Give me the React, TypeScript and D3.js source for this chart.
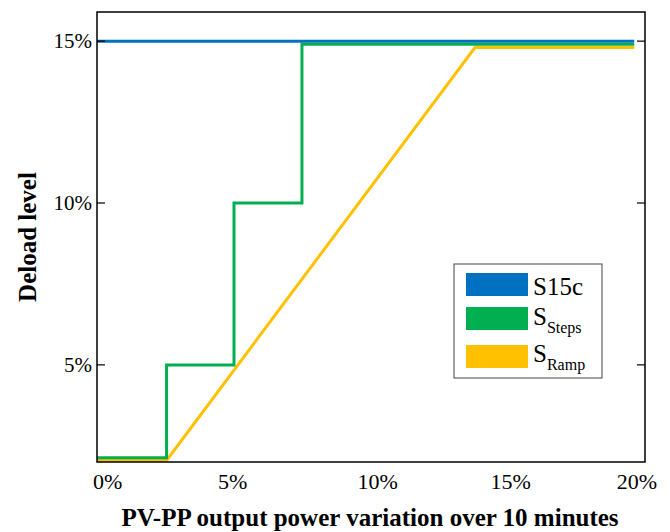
import React from "react";
import * as d3 from "d3";

// ---- data ----
const s15cX = [0, 20];
const s15cY = [15, 15];
const stepsX = [0, 2.59, 2.59, 5.1, 5.1, 7.63, 7.63, 20];
const stepsY = [2.13, 2.13, 5, 5, 10, 10, 14.9, 14.9];
const rampX = [0, 2.59, 14.07, 20];
const rampY = [2.05, 2.05, 14.8, 14.8];
const yTicks = [5, 10, 15];
const yTickLabels = ["5%", "10%", "15%"];
const xTickLabels = ["0%", "5%", "10%", "15%", "20%"];
const xTickLabelPos = [0.4, 5.05, 10.45, 15.4, 20.1];

const W = 670;
const H = 532;
const L = 97, R = 645, T = 12, B = 462;
const FONT = "'Liberation Serif', 'Times New Roman', serif";

export default function App() {
  const x = d3.scaleLinear().domain([0, 20.4]).range([L, R]);
  const y = d3.scaleLinear().domain([2.0, 15.9]).range([B, T]);
  const line = d3
    .line<[number, number]>()
    .x((d) => x(d[0]))
    .y((d) => y(d[1]));
  const pts = (xs: number[], ys: number[]) => xs.map((v, i) => [v, ys[i]] as [number, number]);

  const series = [
    { name: "S15c", color: "#0070C0", d: line(pts(s15cX, s15cY)) },
    { name: "Steps", color: "#00B050", d: line(pts(stepsX, stepsY)) },
    { name: "Ramp", color: "#FFC000", d: line(pts(rampX, rampY)) },
  ];

  return (
    <svg
      width={W}
      height={H}
      style={{ position: "absolute", left: 0, top: 0, background: "#fff" }}
      fontFamily={FONT}
    >
      <rect x={0} y={0} width={W} height={H} fill="#fff" />
      {[...series].reverse().map((s) => (
        <path
          key={s.name}
          d={s.d || ""}
          fill="none"
          stroke={s.color}
          strokeWidth={3}
          strokeLinejoin="miter"
        />
      ))}
      <rect x={L} y={T} width={R - L} height={B - T} fill="none" stroke="#000" strokeWidth={1.5} />
      {yTicks.map((t, i) => (
        <g key={t}>
          <line x1={L} x2={L + 8} y1={y(t)} y2={y(t)} stroke="#000" strokeWidth={1.2} />
          <line x1={R - 8} x2={R} y1={y(t)} y2={y(t)} stroke="#000" strokeWidth={1.2} />
          <text x={L - 5} y={y(t)} dy="0.35em" textAnchor="end" fontSize={21} fill="#000">
            {yTickLabels[i]}
          </text>
        </g>
      ))}
      {xTickLabels.map((lab, i) => (
        <text
          key={lab}
          x={x(xTickLabelPos[i])}
          y={489}
          textAnchor="middle"
          fontSize={22}
          fill="#000"
        >
          {lab}
        </text>
      ))}
      <text x={370} y={526} textAnchor="middle" fontSize={25} fontWeight="bold" fill="#000">
        PV-PP output power variation over 10 minutes
      </text>
      <text
        transform={`translate(36, 237) rotate(-90)`}
        textAnchor="middle"
        fontSize={25}
        fontWeight="bold"
        fill="#000"
      >
        Deload level
      </text>
      <rect x={454} y={264} width={148} height={114} fill="#fff" stroke="#444" strokeWidth={1} />
      <rect x={466} y={273} width={62} height={23} fill={series[0].color} />
      <rect x={466} y={307} width={62} height={23} fill={series[1].color} />
      <rect x={466} y={345} width={62} height={23} fill={series[2].color} />
      <text x={533} y={295} fontSize={25} fill="#000">S15c</text>
      <text x={533} y={325} fontSize={25} fill="#000">
        S<tspan fontSize={16} dy={8}>Steps</tspan>
      </text>
      <text x={533} y={362} fontSize={25} fill="#000">
        S<tspan fontSize={16} dy={8}>Ramp</tspan>
      </text>
    </svg>
  );
}
